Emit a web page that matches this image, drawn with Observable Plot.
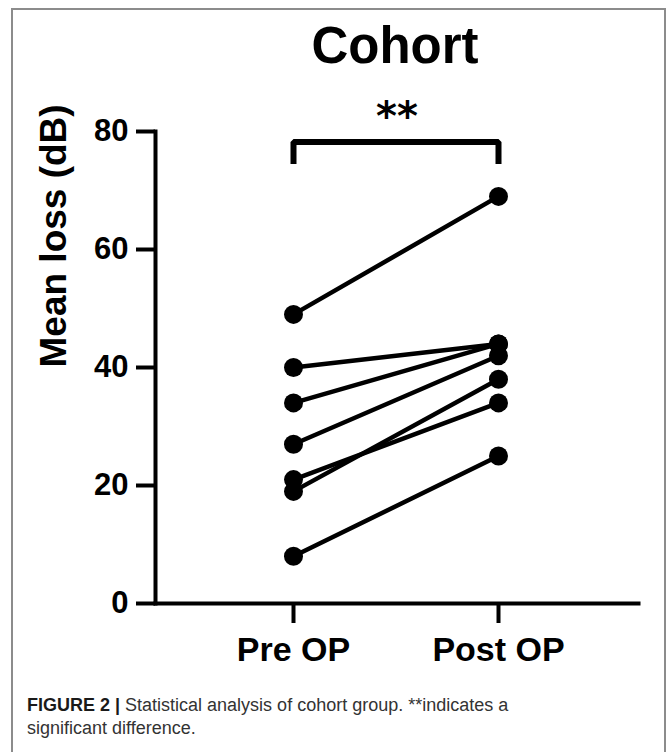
<!DOCTYPE html>
<html>
<head>
<meta charset="utf-8">
<script src="https://cdn.jsdelivr.net/npm/d3@7"></script>
<script src="https://cdn.jsdelivr.net/npm/@observablehq/plot@0.6"></script>
<style>
  html, body { margin: 0; padding: 0; background: #fff; width: 670px; height: 752px; overflow: hidden; }
  body { position: relative; font-family: "Liberation Sans", Arial, sans-serif; }
  #border { position: absolute; left: 11px; top: 8px; width: 651px; height: 800px;
            border-left: 2px solid #8c8c8c; border-top: 2px solid #8c8c8c; border-right: 2px solid #8c8c8c; }
  #chart { position: absolute; left: 0; top: 0; }
  #title { position: absolute; left: 245px; width: 300px; top: 20px; text-align: center;
           font-size: 51px; line-height: 51px; font-weight: bold; color: #000; }
  #caption { position: absolute; left: 27px; top: 694px; width: 540px;
             font-size: 18px; line-height: 23.3px; color: #333; }
  #caption span.fig { font-weight: bold; color: #1a1a1a; }
</style>
</head>
<body>
<div id="border"></div>
<div id="chart"></div>
<div id="title">Cohort</div>
<div id="caption"><span class="fig">FIGURE 2 |</span><span> Statistical analysis of cohort group. **indicates a significant difference.</span></div>
<script>
// ---- data ----
const phases = ["Pre OP", "Post OP"];
const preOP  = [49, 40, 34, 27, 21, 19, 8];
const postOP = [69, 44, 44, 42, 34, 38, 25];
const yTicks = [0, 20, 40, 60, 80];
const yLabel = "Mean loss (dB)";
const sigLabel = "**";
const bracketX = ["Pre OP", "Pre OP", "Post OP", "Post OP"];
const bracketY = [74.5, 78.2, 78.2, 74.5];

const rows = [];
preOP.forEach((v, i) => {
  rows.push({subject: i, phase: phases[0], value: v});
  rows.push({subject: i, phase: phases[1], value: postOP[i]});
});
const bracket = bracketX.map((p, i) => ({phase: p, value: bracketY[i]}));

const font = '"Liberation Sans", Arial, sans-serif';

const chart = Plot.plot({
  width: 670,
  height: 680,
  marginLeft: 155,
  marginRight: 32,
  marginTop: 131,
  marginBottom: 77,
  style: {fontFamily: font, color: "#000", background: "transparent"},
  x: {type: "point", domain: phases, range: [292.5, 497.5], padding: 0},
  y: {domain: [0, 80]},
  marks: [
    Plot.frame({anchor: "left", stroke: "#000", strokeWidth: 4, strokeLinecap: "square"}),
    Plot.frame({anchor: "bottom", stroke: "#000", strokeWidth: 4, strokeLinecap: "square"}),
    Plot.axisY({ticks: yTicks, tickSize: 19, tickPadding: 8, fontSize: 31, fontWeight: "bold",
                strokeWidth: 4, label: null}),
    Plot.axisX({tickSize: 20, tickPadding: 13, fontSize: 34, fontWeight: "bold",
                strokeWidth: 4, label: null}),
    Plot.text([yLabel], {frameAnchor: "left", rotate: -90, dx: -101, fontSize: 37,
                         fontWeight: "bold", fill: "#000"}),
    Plot.line(rows, {x: "phase", y: "value", z: "subject", stroke: "#000", strokeWidth: 4.5}),
    Plot.dot(rows, {x: "phase", y: "value", r: 9.5, fill: "#000", stroke: "none"}),
    Plot.line(bracket, {x: "phase", y: "value", stroke: "#000", strokeWidth: 6,
                        strokeLinejoin: "miter", strokeLinecap: "butt"}),
    Plot.text([sigLabel], {y: [80], text: d => d, lineAnchor: "bottom", fontSize: 40, dy: -2,
                           fontWeight: "bold", fontFamily: "DejaVu Sans", fill: "#000"})
  ]
});
document.getElementById("chart").appendChild(chart);
</script>
</body>
</html>
